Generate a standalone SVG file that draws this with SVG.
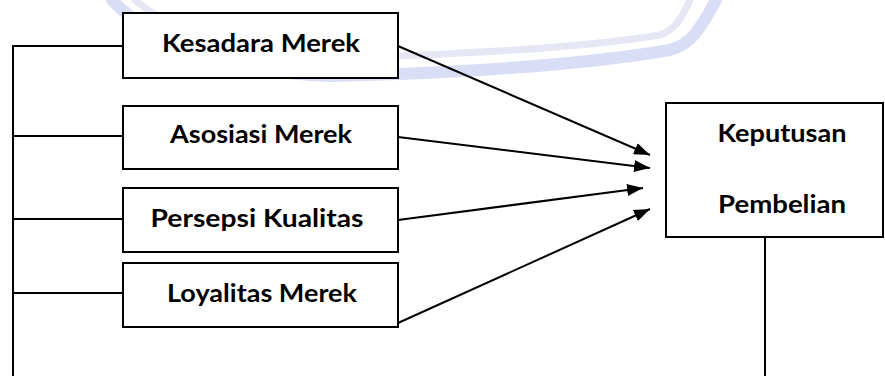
<svg xmlns="http://www.w3.org/2000/svg" width="885" height="376" viewBox="0 0 885 376">
<style>
.box{fill:#fff;stroke:#000;stroke-width:2}
.ln{fill:none;stroke:#000;stroke-width:2}
.lbl{font-family:Lato,"Liberation Sans",sans-serif;font-weight:bold;font-size:24px;fill:#000;text-anchor:middle}
.wm1{fill:none;stroke:#d9ddf6;stroke-width:12;stroke-linecap:round}
.wm2{fill:none;stroke:#e5e7f5;stroke-width:7;stroke-linecap:round}
</style>
<defs>
<marker id="ah" viewBox="0 0 16 12" refX="16" refY="6" markerWidth="8" markerHeight="6" markerUnits="strokeWidth" orient="auto">
<path d="M0,0 L16,6 L0,12 z" fill="#000"/>
</marker>
</defs>
<g id="watermark">
<path class="wm1" d="M112,0 C150,40 220,72 330,76 L400,74 C500,70 600,62 670,50 C690,45 700,30 716,0"/>
<path class="wm2" d="M135,0 C170,30 240,55 340,58 L400,56 C500,52 600,45 660,35 C675,30 682,18 690,0"/>
</g>
<g id="connectors">
<polyline class="ln" points="123,46 13,46 13,376"/>
<line class="ln" x1="13" y1="136" x2="123" y2="136"/>
<line class="ln" x1="13" y1="219" x2="123" y2="219"/>
<line class="ln" x1="13" y1="293" x2="123" y2="293"/>
<line class="ln" x1="398" y1="46" x2="650" y2="155" marker-end="url(#ah)"/>
<line class="ln" x1="398" y1="137" x2="650" y2="168" marker-end="url(#ah)"/>
<line class="ln" x1="398" y1="220" x2="643" y2="188" marker-end="url(#ah)"/>
<line class="ln" x1="398" y1="323" x2="650" y2="209" marker-end="url(#ah)"/>
<line class="ln" x1="765" y1="235" x2="765" y2="376"/>
</g>
<g id="kesadara">
<rect class="box" x="123" y="13" width="275" height="65"/>
<text class="lbl" x="261" y="52" textLength="198" lengthAdjust="spacingAndGlyphs">Kesadara Merek</text>
</g>
<g id="asosiasi">
<rect class="box" x="123" y="106" width="275" height="63"/>
<text class="lbl" x="261" y="143" textLength="182" lengthAdjust="spacingAndGlyphs">Asosiasi Merek</text>
</g>
<g id="persepsi">
<rect class="box" x="123" y="188" width="275" height="64"/>
<text class="lbl" x="257" y="227" textLength="213" lengthAdjust="spacingAndGlyphs">Persepsi Kualitas</text>
</g>
<g id="loyalitas">
<rect class="box" x="123" y="263" width="275" height="64"/>
<text class="lbl" x="262" y="302" textLength="190" lengthAdjust="spacingAndGlyphs">Loyalitas Merek</text>
</g>
<g id="keputusan">
<rect class="box" x="666" y="103" width="217" height="134"/>
<text class="lbl" x="782" y="142" textLength="129" lengthAdjust="spacingAndGlyphs">Keputusan</text>
<text class="lbl" x="782" y="213" textLength="128" lengthAdjust="spacingAndGlyphs">Pembelian</text>
</g>
</svg>
